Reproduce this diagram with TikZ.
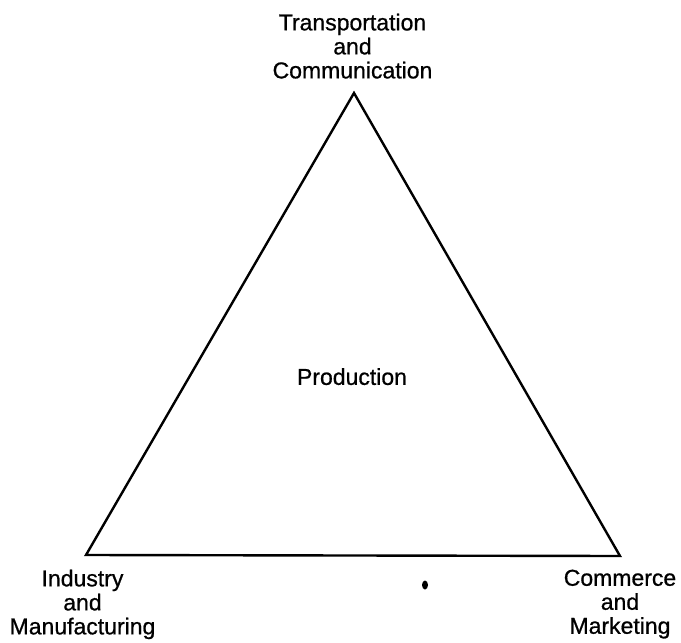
\documentclass[tikz,border=0pt]{standalone}
\usepackage{fontspec}
\setmainfont{Liberation Sans}[FakeBold=0.8]
\begin{document}
\begin{tikzpicture}[x=1pt,y=-1pt,
  lbl/.style={align=center,font=\fontsize{23}{24}\selectfont,inner sep=0pt,anchor=north},
  edge/.style={line width=2.4pt,line join=miter}]
\useasboundingbox (0,0) rectangle (681,643);
\coordinate (T) at (354,93);
\coordinate (L) at (86,555);
\coordinate (R) at (620,556);
\draw[edge] (T) -- (L) -- (R) -- cycle;
\node[lbl] (top) at (352.5,13.5) {Transportation\\and\\Communication};
\node[lbl] (prod) at (352,368) {Production};
\node[lbl] (left) at (82.5,569.5) {Industry\\and\\Manufacturing};
\node[lbl] (right) at (620,569.5) {Commerce\\and\\Marketing};
\fill (425,585) ellipse (3pt and 4.5pt);
\end{tikzpicture}
\end{document}
